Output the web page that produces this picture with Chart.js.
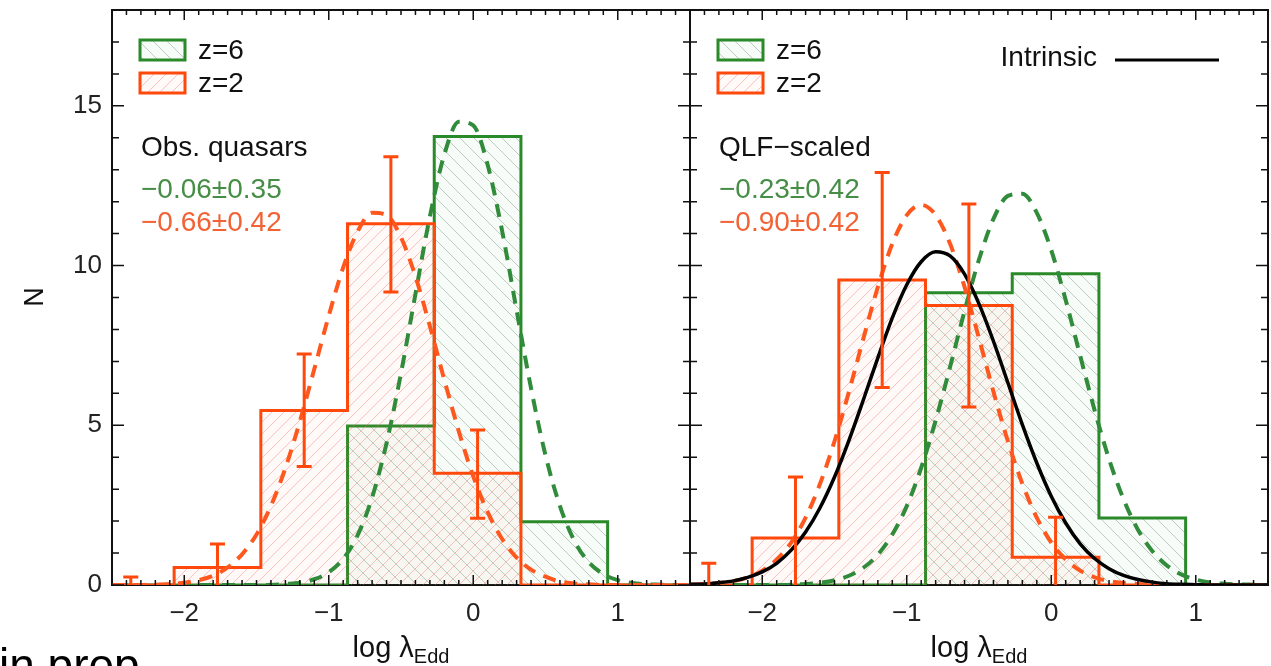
<!DOCTYPE html>
<html>
<head>
<meta charset="utf-8">
<script src="https://cdn.jsdelivr.net/npm/chart.js@4.4.0/dist/chart.umd.min.js"></script>
<style>
  body { margin: 0; background: #fff; width: 1271px; height: 666px; overflow: hidden; position: relative; }
  #left { position: absolute; left: 0; top: 0; }
  #right { position: absolute; left: 680px; top: 0; }
</style>
</head>
<body>
<canvas id="left" width="691" height="666"></canvas>
<canvas id="right" width="591" height="666"></canvas>
<script>
// histogram bins (left edges, last one closes the step)
const binEdges = [-2.67, -2.07, -1.47, -0.87, -0.27, 0.33, 0.93, 1.53];
const obsZ2 = [0, 0.55, 5.46, 11.31, 3.50, 0, 0];
const obsZ6 = [0, 0, 0, 4.98, 14.04, 1.98, 0];
const qlfZ2 = [0, 1.47, 9.55, 8.75, 0.87, 0, 0];
const qlfZ6 = [0, 0, 0, 9.15, 9.74, 2.10, 0];

// z=2 error bars at bin centres
const errX = [-2.37, -1.77, -1.17, -0.57, 0.03];
const obsZ2Lo = [0, 0, 3.71, 9.17, 2.09];
const obsZ2Hi = [0.25, 1.28, 7.23, 13.41, 4.85];
const qlfZ2Lo = [0, 0, 6.18, 5.57, 0];
const qlfZ2Hi = [0.68, 3.38, 12.91, 11.93, 2.12];

const curveX = [-2.5, -2.4, -2.3, -2.2, -2.1, -2.0, -1.9, -1.8, -1.7, -1.6, -1.5, -1.4, -1.3, -1.2, -1.1,
  -1.0, -0.9, -0.8, -0.7, -0.6, -0.5, -0.4, -0.3, -0.2, -0.1, 0.0, 0.1, 0.2, 0.3, 0.4, 0.5, 0.6, 0.7,
  0.8, 0.9, 1.0, 1.1, 1.2, 1.3, 1.4, 1.5];
const obsFitZ2 = [0, 0, 0, 0.01, 0.03, 0.07, 0.15, 0.29, 0.55, 0.96, 1.58, 2.48, 3.66, 5.12, 6.76,
  8.43, 9.94, 11.07, 11.65, 11.58, 10.88, 9.66, 8.10, 6.42, 4.81, 3.40, 2.28, 1.44, 0.86, 0.48, 0.26, 0.11, 0.05,
  0.02, 0, 0, 0, 0, 0, 0, 0];
const obsFitZ6 = [0, 0, 0, 0, 0, 0, 0, 0, 0, 0, 0, 0, 0.03, 0.07, 0.18,
  0.40, 0.82, 1.56, 2.74, 4.44, 6.63, 9.11, 11.54, 13.48, 14.50, 14.39, 13.15, 11.08, 8.60, 6.16, 4.06, 2.47, 1.38,
  0.71, 0.34, 0.15, 0.06, 0.02, 0.01, 0, 0];
const qlfFitZ2 = [0.01, 0.03, 0.06, 0.12, 0.24, 0.45, 0.80, 1.33, 2.11, 3.17, 4.50, 6.05, 7.72, 9.33, 10.68,
  11.58, 11.90, 11.58, 10.68, 9.33, 7.72, 6.05, 4.50, 3.17, 2.11, 1.33, 0.80, 0.45, 0.24, 0.12, 0.06, 0.03, 0.01,
  0, 0, 0, 0, 0, 0, 0, 0];
const qlfFitZ6 = [0, 0, 0, 0, 0, 0, 0, 0.01, 0.03, 0.07, 0.15, 0.29, 0.54, 0.95, 1.58,
  2.47, 3.67, 5.15, 6.83, 8.58, 10.19, 11.46, 12.18, 12.25, 11.65, 10.48, 8.92, 7.18, 5.47, 3.94, 2.69, 1.73, 1.06,
  0.61, 0.33, 0.17, 0.08, 0.04, 0.02, 0.01, 0];
const intrinsic = [0.02, 0.03, 0.07, 0.13, 0.24, 0.41, 0.68, 1.09, 1.66, 2.42, 3.38, 4.53, 5.80, 7.11, 8.36,
  9.40, 10.12, 10.43, 10.30, 9.73, 8.80, 7.63, 6.33, 5.02, 3.82, 2.78, 1.94, 1.29, 0.83, 0.51, 0.30, 0.17, 0.09,
  0.04, 0.02, 0.01, 0, 0, 0, 0, 0];

const xTicks = [-2, -1, 0, 1];
const yTicks = [0, 5, 10, 15];

const FONT = '"Liberation Sans", Arial, Helvetica, sans-serif';
const GREEN = 'rgb(42,138,42)';
const ORANGE = 'rgb(255,72,12)';
const GREEN_TXT = 'rgb(70,142,70)';
const ORANGE_TXT = 'rgb(242,98,52)';

function hatch(size, tint, line, slash) {
  const s = size;
  const c = document.createElement('canvas');
  c.width = s; c.height = s;
  const g = c.getContext('2d');
  g.fillStyle = tint;
  g.fillRect(0, 0, s, s);
  g.strokeStyle = line;
  g.lineWidth = 1;
  g.beginPath();
  if (slash) {
    g.moveTo(0, s); g.lineTo(s, 0);
    g.moveTo(-s / 2, s / 2); g.lineTo(s / 2, -s / 2);
    g.moveTo(s / 2, s * 1.5); g.lineTo(s * 1.5, s / 2);
  } else {
    g.moveTo(0, 0); g.lineTo(s, s);
    g.moveTo(-s / 2, s / 2); g.lineTo(s / 2, s * 1.5);
    g.moveTo(s / 2, -s / 2); g.lineTo(s * 1.5, s / 2);
  }
  g.stroke();
  return g.createPattern(c, 'repeat');
}
const greenHatch = hatch(14, 'rgba(80,180,80,0.04)', 'rgba(70,115,80,0.34)', false);
const orangeHatch = hatch(12, 'rgba(255,130,100,0.05)', 'rgba(240,105,105,0.38)', true);

function stepPoints(h) {
  return binEdges.map((e, i) => ({ x: e, y: i < h.length ? h[i] : 0 }));
}
function curvePoints(arr) {
  return curveX.map((x, i) => ({ x: x, y: arr[i] }));
}
function fmt(v) {
  return v < 0 ? '\u2212' + Math.abs(v) : String(v);
}

function drawTicks(ctx, a, x, y) {
  ctx.strokeStyle = '#111';
  ctx.lineWidth = 1.5;
  ctx.beginPath();
  for (let v = Math.ceil(x.min * 10); v <= Math.floor(x.max * 10); v++) {
    const px = x.getPixelForValue(v / 10);
    const len = v % 10 === 0 ? 10 : 5;
    ctx.moveTo(px, a.bottom); ctx.lineTo(px, a.bottom - len);
    ctx.moveTo(px, a.top); ctx.lineTo(px, a.top + len);
  }
  for (let v = Math.ceil(y.min); v <= Math.floor(y.max); v++) {
    const py = y.getPixelForValue(v);
    const len = v % 5 === 0 ? 12 : 7;
    ctx.moveTo(a.left, py); ctx.lineTo(a.left + len, py);
    ctx.moveTo(a.right, py); ctx.lineTo(a.right - len, py);
  }
  ctx.stroke();
}

const panelPlugin = {
  id: 'panel',
  beforeDatasetsDraw(chart) {
    const { ctx, chartArea: a } = chart;
    ctx.save();
    ctx.strokeStyle = '#111';
    ctx.lineWidth = 2;
    ctx.strokeRect(a.left, a.top, a.right - a.left, a.bottom - a.top);
    ctx.restore();
  },
  afterDatasetsDraw(chart, args, o) {
    const { ctx, scales: { x, y } } = chart;
    ctx.save();
    ctx.strokeStyle = ORANGE;
    ctx.lineWidth = 3;
    errX.forEach((ex, i) => {
      const px = x.getPixelForValue(ex);
      const lo = y.getPixelForValue(o.errLo[i]);
      const hi = y.getPixelForValue(o.errHi[i]);
      ctx.beginPath();
      ctx.moveTo(px, lo); ctx.lineTo(px, hi);
      ctx.moveTo(px - 7.5, hi); ctx.lineTo(px + 7.5, hi);
      if (o.errLo[i] > 0) { ctx.moveTo(px - 7.5, lo); ctx.lineTo(px + 7.5, lo); }
      ctx.stroke();
    });
    ctx.restore();
  },
  afterDraw(chart, args, o) {
    const { ctx, chartArea: a, scales: { x, y } } = chart;
    ctx.save();
    drawTicks(ctx, a, x, y);
    // side borders stay black above the fills
    ctx.lineWidth = 2;
    ctx.beginPath();
    ctx.moveTo(a.left, a.top); ctx.lineTo(a.left, a.bottom - 2);
    ctx.moveTo(a.right, a.top); ctx.lineTo(a.right, a.bottom - 2);
    ctx.moveTo(a.left, a.top); ctx.lineTo(a.right, a.top);
    ctx.stroke();

    // legend boxes
    const bx = a.left + 28;
    [[greenHatch, GREEN, 'z=6', 40], [orangeHatch, ORANGE, 'z=2', 73]].forEach(([pat, col, label, top]) => {
      ctx.fillStyle = pat;
      ctx.fillRect(bx, top, 45, 20);
      ctx.strokeStyle = col;
      ctx.lineWidth = 3;
      ctx.strokeRect(bx, top, 45, 20);
      ctx.fillStyle = '#111';
      ctx.font = '28px ' + FONT;
      ctx.textBaseline = 'middle';
      ctx.textAlign = 'left';
      ctx.fillText(label, a.left + 86, top + 11);
    });

    // panel text
    ctx.font = '28px ' + FONT;
    ctx.fillStyle = '#111';
    ctx.fillText(o.title, a.left + 29, 148);
    ctx.fillStyle = GREEN_TXT;
    ctx.fillText(o.statZ6, a.left + 29, 190);
    ctx.fillStyle = ORANGE_TXT;
    ctx.fillText(o.statZ2, a.left + 29, 223);

    if (o.intrinsic) {
      ctx.fillStyle = '#111';
      ctx.textAlign = 'right';
      ctx.fillText('Intrinsic', a.left + 407, 58);
      ctx.strokeStyle = '#000';
      ctx.lineWidth = 3;
      ctx.beginPath();
      ctx.moveTo(a.left + 425, 60); ctx.lineTo(a.left + 529, 60);
      ctx.stroke();
    }

    // x axis title with subscript
    const cx = (a.left + a.right) / 2;
    ctx.fillStyle = '#111';
    ctx.textAlign = 'left';
    ctx.textBaseline = 'alphabetic';
    ctx.font = '29px ' + FONT;
    const main = 'log \u03bb';
    const w1 = ctx.measureText(main).width;
    ctx.font = '20px ' + FONT;
    const w2 = ctx.measureText('Edd').width;
    const x0 = cx - (w1 + w2) / 2;
    ctx.font = '29px ' + FONT;
    ctx.fillText(main, x0, 657);
    ctx.font = '20px ' + FONT;
    ctx.fillText('Edd', x0 + w1, 663);

    if (o.yTitle) {
      ctx.save();
      ctx.translate(36, 297);
      ctx.rotate(-Math.PI / 2);
      ctx.font = '27px ' + FONT;
      ctx.textAlign = 'center';
      ctx.textBaseline = 'middle';
      ctx.fillText('N', 0, 0);
      ctx.restore();
    }
    if (o.footer) {
      ctx.font = '46px ' + FONT;
      ctx.textAlign = 'left';
      ctx.fillStyle = '#000';
      ctx.fillText(o.footer, -1, 681);
    }
    ctx.restore();
  }
};

function makePanel(id, p) {
  const datasets = [
    { data: stepPoints(p.z6), stepped: 'before', borderColor: GREEN, borderWidth: 3,
      backgroundColor: greenHatch, fill: 'origin', order: 6 },
    { data: stepPoints(p.z2), stepped: 'before', borderColor: ORANGE, borderWidth: 3,
      backgroundColor: orangeHatch, fill: 'origin', order: 5 },
    { data: curvePoints(p.fitZ6), borderColor: 'rgb(48,140,58)', borderWidth: 4, borderDash: [13, 9],
      cubicInterpolationMode: 'monotone', fill: false, order: 4 },
    { data: curvePoints(p.fitZ2), borderColor: 'rgb(255,88,30)', borderWidth: 4, borderDash: [13, 9],
      cubicInterpolationMode: 'monotone', fill: false, order: 3 }
  ];
  if (p.intrinsic) {
    datasets.push({ data: curvePoints(p.intrinsic), borderColor: '#000', borderWidth: 3.5,
      cubicInterpolationMode: 'monotone', fill: false, order: 1 });
  }
  return new Chart(document.getElementById(id), {
    type: 'line',
    data: { datasets: datasets },
    options: {
      responsive: false,
      animation: false,
      events: [],
      elements: { point: { radius: 0 }, line: { borderJoinStyle: 'miter', borderCapStyle: 'butt' } },
      layout: { autoPadding: false, padding: { left: 0, right: p.padRight, top: 10, bottom: 0 } },
      plugins: {
        legend: { display: false },
        tooltip: { enabled: false },
        panel: p.text
      },
      scales: {
        x: {
          type: 'linear', min: -2.5, max: 1.5,
          grid: { display: false, drawTicks: false }, border: { display: false },
          ticks: { color: '#222', font: { family: FONT, size: 26 }, padding: 13, callback: fmt },
          afterBuildTicks: s => { s.ticks = xTicks.map(v => ({ value: v })); },
          afterFit: s => { s.height = 81; s.paddingLeft = 0; s.paddingRight = 0; }
        },
        y: {
          type: 'linear', min: 0, max: 18,
          grid: { display: false, drawTicks: false }, border: { display: false },
          ticks: { display: p.yLabels, color: '#222', font: { family: FONT, size: 26 }, padding: 10 },
          afterBuildTicks: s => { s.ticks = yTicks.map(v => ({ value: v })); },
          afterFit: s => { s.width = p.yWidth; s.paddingTop = 0; s.paddingBottom = 0; }
        }
      }
    },
    plugins: [panelPlugin]
  });
}

makePanel('left', {
  z6: obsZ6, z2: obsZ2, fitZ6: obsFitZ6, fitZ2: obsFitZ2,
  yLabels: true, yWidth: 112, padRight: 1,
  text: { title: 'Obs. quasars', statZ6: '\u22120.06\u00b10.35', statZ2: '\u22120.66\u00b10.42',
    errLo: obsZ2Lo, errHi: obsZ2Hi, yTitle: true, footer: 'in prep' }
});
makePanel('right', {
  z6: qlfZ6, z2: qlfZ2, fitZ6: qlfFitZ6, fitZ2: qlfFitZ2, intrinsic: intrinsic,
  yLabels: false, yWidth: 10, padRight: 3,
  text: { title: 'QLF\u2212scaled', statZ6: '\u22120.23\u00b10.42', statZ2: '\u22120.90\u00b10.42',
    errLo: qlfZ2Lo, errHi: qlfZ2Hi, intrinsic: true }
});
</script>
</body>
</html>
